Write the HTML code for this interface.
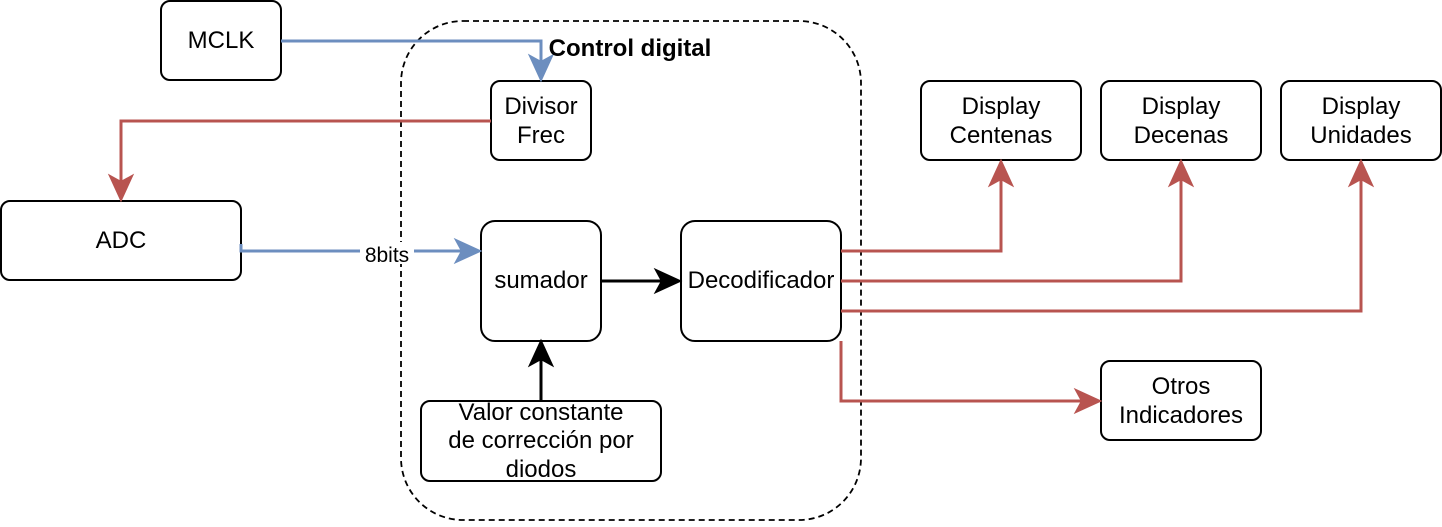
<!DOCTYPE html>
<html><head><meta charset="utf-8"><style>
html,body{margin:0;padding:0;background:#fff;}
text{font-family:"Liberation Sans",sans-serif;font-size:24px;fill:#000;}
</style></head><body>
<svg width="1442" height="522" viewBox="0 0 1442 522" xmlns="http://www.w3.org/2000/svg">
<g fill="none" stroke="#000" stroke-width="2">
<rect x="401" y="21" width="460" height="499" rx="62" stroke-dasharray="6,4" stroke-width="1.8"/>
<rect x="161" y="1" width="120" height="79" rx="9"/>
<rect x="491" y="81" width="100" height="79" rx="9"/>
<rect x="1" y="201" width="240" height="79" rx="9"/>
<rect x="481" y="221" width="120" height="120" rx="14"/>
<rect x="681" y="221" width="160" height="120" rx="14"/>
<rect x="421" y="401" width="240" height="80" rx="9"/>
<rect x="921" y="81" width="160" height="79" rx="9"/>
<rect x="1101" y="81" width="160" height="79" rx="9"/>
<rect x="1281" y="81" width="160" height="79" rx="9"/>
<rect x="1101" y="361" width="160" height="79" rx="9"/>
</g>
<g fill="none" stroke-width="3">
<path d="M281 41H541V68" stroke="#6c8ebf"/>
<path d="M241 244V251H468" stroke="#6c8ebf"/>
<path d="M491 121H121V188" stroke="#b85450"/>
<path d="M841 251H1001V173" stroke="#b85450"/>
<path d="M841 281H1181V173" stroke="#b85450"/>
<path d="M841 311H1361V173" stroke="#b85450"/>
<path d="M841 341V401H1088" stroke="#b85450"/>
<path d="M601 281H668" stroke="#000"/>
<path d="M541 401V354" stroke="#000"/>
</g>
<g stroke-width="2" stroke-linejoin="miter">
<path d="M541 80L530 56L541 62L552 56Z" fill="#6c8ebf" stroke="#6c8ebf"/>
<path d="M480 251L456 240L462 251L456 262Z" fill="#6c8ebf" stroke="#6c8ebf"/>
<path d="M121 200L110 176L121 182L132 176Z" fill="#b85450" stroke="#b85450"/>
<path d="M1001 161L990 185L1001 179L1012 185Z" fill="#b85450" stroke="#b85450"/>
<path d="M1181 161L1170 185L1181 179L1192 185Z" fill="#b85450" stroke="#b85450"/>
<path d="M1361 161L1350 185L1361 179L1372 185Z" fill="#b85450" stroke="#b85450"/>
<path d="M1100 401L1076 390L1082 401L1076 412Z" fill="#b85450" stroke="#b85450"/>
<path d="M680 281L656 270L662 281L656 292Z" fill="#000" stroke="#000"/>
<path d="M541 341L530 365L541 359L552 365Z" fill="#000" stroke="#000"/>
</g>
<rect x="360" y="242" width="54" height="22" fill="#fff"/>
<g text-anchor="middle">
<text x="630" y="56" font-weight="bold">Control digital</text>
<text x="221" y="48">MCLK</text>
<text x="541" y="114">Divisor</text>
<text x="541" y="143">Frec</text>
<text x="121" y="248">ADC</text>
<text x="387" y="262" style="font-size:21px">8bits</text>
<text x="541" y="288">sumador</text>
<text x="761" y="288">Decodificador</text>
<text x="541" y="420">Valor constante</text>
<text x="541" y="448">de corrección por</text>
<text x="541" y="477">diodos</text>
<text x="1001" y="114">Display</text>
<text x="1001" y="143">Centenas</text>
<text x="1181" y="114">Display</text>
<text x="1181" y="143">Decenas</text>
<text x="1361" y="114">Display</text>
<text x="1361" y="143">Unidades</text>
<text x="1181" y="394">Otros</text>
<text x="1181" y="423">Indicadores</text>
</g>
</svg>
</body></html>
